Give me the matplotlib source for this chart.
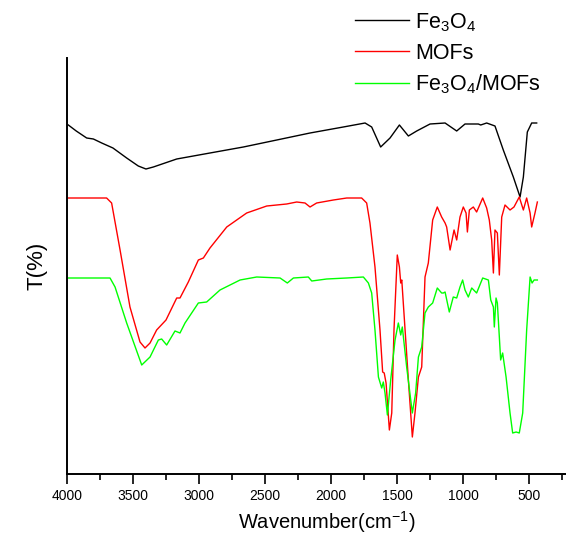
import matplotlib.pyplot as plt
from matplotlib.ticker import MultipleLocator

plt.rcParams['font.family'] = ['Liberation Sans', 'DejaVu Sans']
plt.rcParams['mathtext.fontset'] = 'custom'
plt.rcParams['mathtext.rm'] = 'Liberation Sans'
plt.rcParams['mathtext.it'] = 'Liberation Sans'

# FTIR spectra, transmittance in arbitrary units (offset traces)
fe3o4_wn = [3990, 3930, 3851, 3800, 3737, 3652, 3548, 3460, 3402, 3346, 3169, 2917,
            2664, 2411, 2159, 1907, 1742, 1692, 1624, 1553, 1482, 1414, 1351, 1250,
            1136, 1048, 985, 884, 866, 821, 758, 695, 619, 568, 543, 513, 480, 442]
fe3o4_t = [349, 343, 336, 335, 331, 326, 316, 308, 305, 307, 315, 321,
           327, 334, 341, 347, 351, 347, 327, 336, 349, 338, 343, 350,
           351, 343, 350, 350, 349, 351, 348, 324, 297, 277, 297, 342, 351, 351]

mof_wn = [3990, 3700, 3662, 3598, 3523, 3447, 3409, 3371, 3321, 3250, 3169, 3144,
          3081, 3005, 2967, 2917, 2790, 2639, 2487, 2336, 2260, 2197, 2159, 2109,
          1982, 1881, 1768, 1730, 1705, 1667, 1629, 1609, 1597, 1583, 1558, 1540,
          1523, 1498, 1482, 1472, 1464, 1439, 1414, 1384, 1364, 1338, 1313, 1288,
          1263, 1230, 1195, 1162, 1136, 1124, 1098, 1068, 1048, 1023, 998, 977,
          967, 952, 922, 897, 851, 821, 801, 783, 770, 758, 740, 725, 707, 682,
          644, 614, 574, 543, 518, 492, 480, 455, 437]
mof_t = [276, 276, 271, 224, 167, 132, 126, 131, 144, 154, 176, 176,
         192, 214, 216, 226, 247, 261, 268, 270, 272, 271, 267, 271,
         274, 276, 276, 271, 251, 207, 144, 102, 101, 91, 44, 61,
         144, 219, 207, 191, 194, 144, 94, 37, 61, 97, 107, 197,
         211, 254, 267, 257, 251, 247, 224, 244, 234, 257, 267, 261,
         242, 264, 267, 262, 276, 266, 254, 234, 201, 244, 241, 199, 257, 269,
         264, 267, 277, 264, 276, 261, 247, 261, 272]

comp_wn = [3990, 3674, 3636, 3548, 3434, 3371, 3308, 3283, 3245, 3182, 3144, 3106,
           3005, 2942, 2841, 2689, 2563, 2386, 2331, 2285, 2172, 2146, 2033, 1881,
           1755, 1717, 1692, 1667, 1641, 1616, 1604, 1591, 1573, 1548, 1515, 1490,
           1472, 1460, 1427, 1384, 1359, 1338, 1313, 1288, 1263, 1230, 1195, 1162,
           1149, 1136, 1104, 1074, 1048, 1023, 1003, 985, 960, 934, 897, 851, 808,
           790, 770, 763, 750, 740, 725, 715, 700, 674, 644, 624, 598, 574, 548,
           518, 492, 477, 462, 437]
comp_t = [196, 196, 187, 151, 109, 117, 134, 135, 129, 143, 141, 151,
          171, 172, 184, 194, 197, 196, 191, 196, 197, 193, 195, 196,
          197, 191, 181, 144, 97, 86, 92, 81, 59, 94, 134, 151,
          139, 147, 107, 61, 81, 117, 127, 161, 167, 171, 186, 181,
          181, 182, 162, 177, 176, 187, 194, 184, 177, 186, 181, 196, 194,
          174, 167, 147, 176, 171, 137, 114, 121, 97, 61, 41, 42, 41, 61,
          144, 197, 191, 194, 194]

fig = plt.figure(figsize=(5.66, 5.46), dpi=100)
ax = fig.add_axes([67 / 566, 72 / 546, 499 / 566, 416 / 546])

ax.plot(fe3o4_wn, fe3o4_t, color='black', lw=1.0, label=r'Fe$_3$O$_4$')
ax.plot(mof_wn, mof_t, color='#ff0000', lw=1.0, label='MOFs')
ax.plot(comp_wn, comp_t, color='#00ff00', lw=1.0, label=r'Fe$_3$O$_4$/MOFs')

ax.set_xlim(4000, 220)
ax.set_ylim(0, 416)
ax.xaxis.set_minor_locator(MultipleLocator(250))
ax.set_xticks([4000, 3500, 3000, 2500, 2000, 1500, 1000, 500])
ax.tick_params(axis='x', which='major', direction='out', length=7, width=1.2, labelsize=10)
ax.tick_params(axis='x', which='minor', direction='out', length=4, width=1.2)
ax.set_yticks([])
for side in ['top', 'right']:
    ax.spines[side].set_visible(False)
for side in ['left', 'bottom']:
    ax.spines[side].set_linewidth(1.4)

ax.set_xlabel('Wavenumber(cm$^{-1}$)', fontsize=14.5, labelpad=8)
ax.xaxis.set_label_coords(0.52, -0.085)
ax.set_ylabel('T(%)', fontsize=16, labelpad=14)

fig.legend(loc='upper left', bbox_to_anchor=(355 / 566, 1 - 11 / 546), frameon=False,
           fontsize=15.5, handlelength=2.5, handletextpad=0.3, labelspacing=0.42,
           borderpad=0, borderaxespad=0)

fig.savefig('out.png', dpi=100)
